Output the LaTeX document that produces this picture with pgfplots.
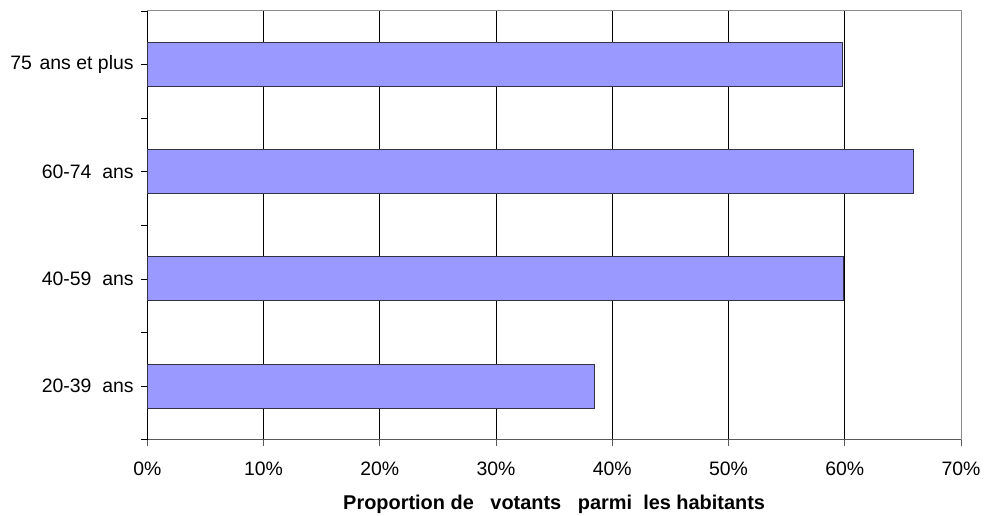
\documentclass[border=0pt]{standalone}
\usepackage{pgfplots}
\pgfplotsset{compat=1.18}
\usepackage{fontspec}
\setmainfont{Liberation Sans}
\definecolor{barfill}{HTML}{9999FF}
\definecolor{baredge}{RGB}{50,50,70}

\begin{document}
\fontsize{19.5}{23}\selectfont
\begin{tikzpicture}
\path[use as bounding box] (-147.3bp,-76.3bp) rectangle (838.7bp,439.7bp);
\begin{axis}[
    at={(0,0)}, anchor=south west,
    scale only axis,
    width=813.7bp, height=428.7bp,
    xmin=0, xmax=70,
    ymin=-0.5, ymax=3.5,
    axis x line*=bottom,
    axis y line*=left,
    x axis line style={-, draw=black!65, line width=1bp},
    y axis line style={-, draw=black, line width=1bp},
    xtick={0,10,...,70},
    xticklabels={0\%,10\%,20\%,30\%,40\%,50\%,60\%,70\%},
    ytick={-0.5,0.5,1.5,2.5,3.5},
    yticklabels={},
    extra y ticks={0,1,2,3},
    extra y tick labels={20-39\ \ ans, 40-59\ \ ans, 60-74\ \ ans, 75\hspace{0.4em}ans et plus},
    extra y tick style={tick style={draw=none}},
    tick align=outside,
    major tick length=6bp,
    x tick style={draw=black!65, line width=0.8bp},
    y tick style={draw=black, line width=0.8bp},
    xmajorgrids=true,
    grid style={draw=black, line width=0.8bp},
    tick label style={font=\fontsize{19.5}{23}\selectfont},
    xticklabel style={yshift=-10bp},
    yticklabel style={xshift=-1bp},
    xlabel={\bfseries Proportion de\ \ \ votants\ \ \ parmi\ \ les habitants},
    xlabel style={at={(axis description cs:0.5,0)}, anchor=base, yshift=-69.3bp, font=\fontsize{20}{24}\selectfont},
    clip=false,
]
\addplot[xbar, bar width=44bp, fill=barfill, draw=baredge, line width=1bp]
    coordinates {(38.5,0) (59.9,1) (65.9,2) (59.8,3)};
\draw[black!45, line width=1bp] (rel axis cs:0,1) -- (rel axis cs:1,1) -- (rel axis cs:1,0);
\end{axis}
\end{tikzpicture}
\end{document}
